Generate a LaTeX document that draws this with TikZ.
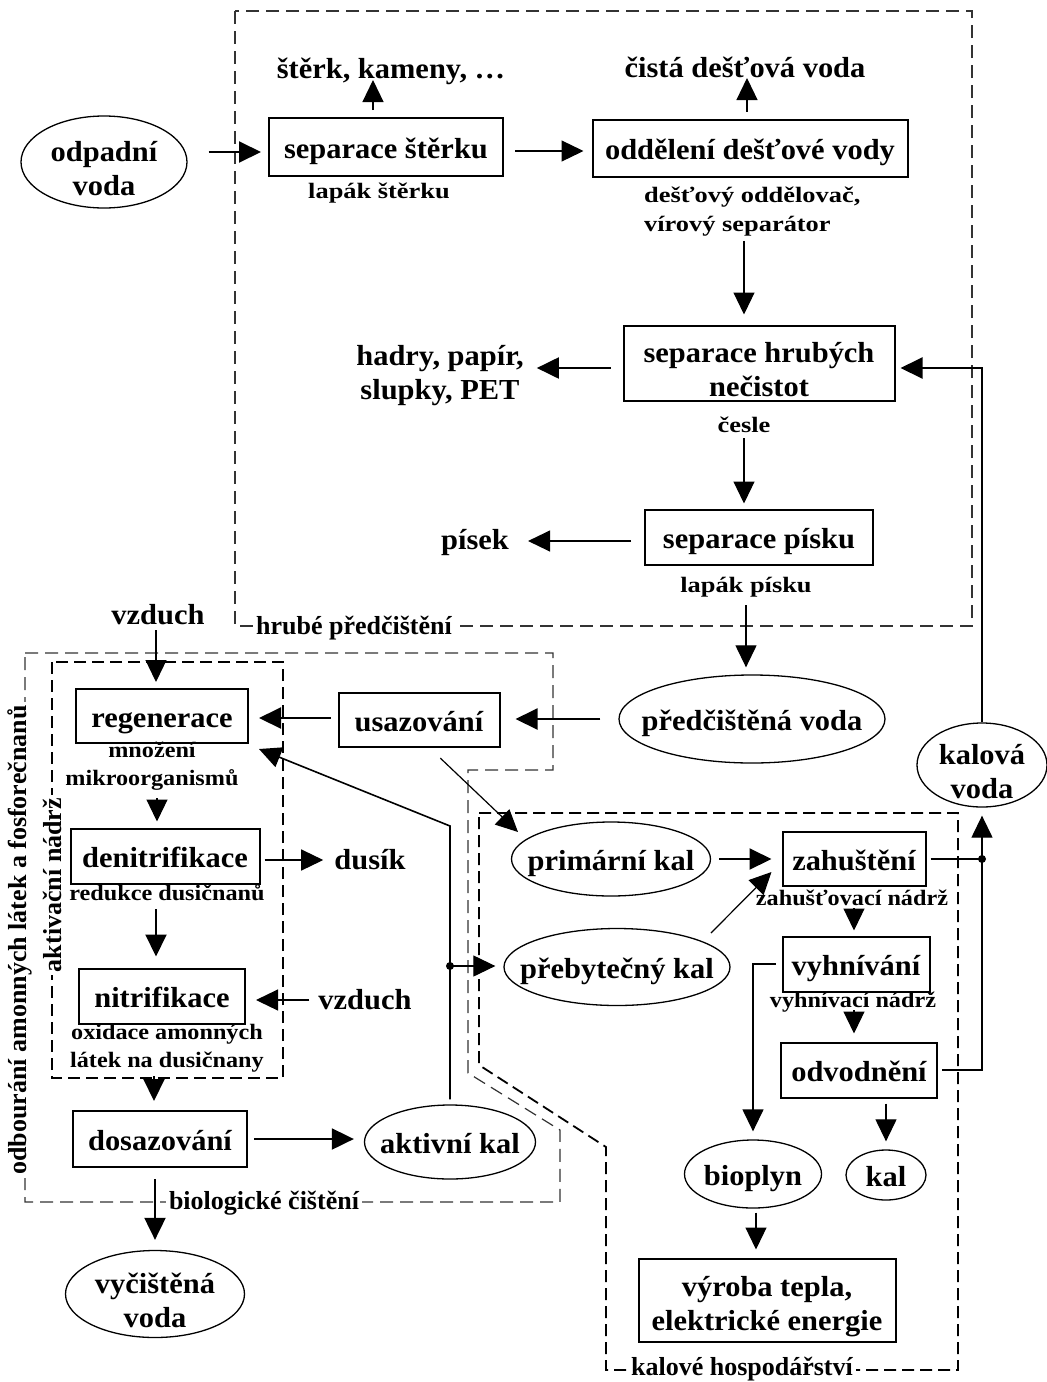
\documentclass[tikz,border=0pt]{standalone}
\usepackage{fontspec}
\usetikzlibrary{arrows.meta,shapes.geometric,calc}
\newfontfamily\mainff[FakeStretch=1.05]{Liberation Serif}
\newfontfamily\subaff[FakeStretch=1.2]{Liberation Serif}
\newfontfamily\subbff[FakeStretch=1.1]{Liberation Serif}
\newfontfamily\secff{Liberation Serif}
% invisible strut that lowers two-line texts inside their shapes
\newcommand{\topstrut}{\rule{0pt}{33pt}}
\begin{document}
\begin{tikzpicture}[x=1pt,y=-1pt,
  txt/.style={inner sep=0pt, align=center, font=\mainff\bfseries\fontsize{29pt}{34pt}\selectfont},
  one/.style={text height=22pt, text depth=0pt},
  procbox/.style 2 args={txt, draw, rectangle, line width=2pt, minimum width=#1pt, minimum height=#2pt},
  oval/.style 2 args={txt, draw, ellipse, line width=1.3pt, inner xsep=-80pt, inner ysep=-40pt, minimum width=#1pt, minimum height=#2pt},
  suba/.style={inner sep=0pt, align=center, font=\subaff\bfseries\fontsize{22pt}{29pt}\selectfont},
  subb/.style={inner sep=0pt, align=center, font=\subbff\bfseries\fontsize{22pt}{28pt}\selectfont},
  seclbl/.style={fill=white, inner xsep=3pt, inner ysep=1pt, font=\secff\bfseries\fontsize{26pt}{30pt}\selectfont},
  arr/.style={-{Triangle[length=22pt,width=21pt]}, line width=1.2pt},
  arrk/.style={arr, line width=2pt},
  dashA/.style={dash pattern=on 13pt off 7pt, line width=1.2pt, draw=black!80},
  dashB/.style={dash pattern=on 12pt off 6pt, line width=1.8pt},
  jdot/.style={circle, fill, inner sep=0pt, minimum size=8pt}
]
\useasboundingbox (0,0) rectangle (1047,1382);

% ---- section outlines ----
\draw[dashA] (235,11) rectangle (972,626);
\draw[dashA] (25,653) -- (553,653) -- (553,770) -- (468,770) -- (468,1073)
  -- (560,1130) -- (560,1202) -- (25,1202) -- cycle;
\draw[dashB] (52,662) rectangle (283,1078);
\draw[dashB] (479,813) -- (958,813) -- (958,1370) -- (606,1370) -- (606,1147) -- (479,1065) -- cycle;

\node[seclbl] (lblhrube) at (354,628) {hrubé předčištění};
\node[seclbl] (lblbio) at (264,1203) {biologické čištění};
\node[seclbl] (lblkal) at (742,1369) {kalové hospodářství};
\node[seclbl, rotate=90] (lblodb) at (20,940) {odbourání amonných látek a fosforečnanů};
\node[seclbl, rotate=90] (lblakt) at (52,885) {aktivační nádrž};

% ---- coarse pre-treatment ----
\node[oval={166}{92}] (odp) at (104,162) {\topstrut odpadní\\voda};
\node[procbox={234}{58}, one] (sepst) at (386,147) {separace štěrku};
\node[txt, anchor=base] (sterk) at (391,78) {štěrk, kameny, …};
\node[suba] (lapst) at (379,193) {lapák štěrku};
\node[procbox={315}{57}, one] (odd) at (750,148) {oddělení dešťové vody};
\node[txt, anchor=base] (cista) at (745,77) {čistá dešťová voda};
\node[suba, anchor=west, align=left] (oddlab) at (644,212) {dešťový oddělovač,\\vírový separátor};
\node[procbox={271}{75}] (hrub) at (759,363) {\topstrut separace hrubých\\nečistot};
\node[txt] (hadry) at (440,369) {\topstrut hadry, papír,\\slupky, PET};
\node[suba] (cesle) at (744,425) {česle};
\node[procbox={228}{55}, one] (pisku) at (759,537) {separace písku};
\node[txt] (pisek) at (475,543) {písek};
\node[suba] (lappis) at (746,587) {lapák písku};
\node[oval={266}{88}, one] (predc) at (752,719) {předčištěná voda};

\draw[arrk, shorten <=21pt, shorten >=7pt] ($(sepst.west -| odp.east)+(0,5)$) -- ($(sepst.west)+(0,5)$);
\draw[arr, shorten <=11pt, shorten >=8pt] ($(sepst.east)+(0,4)$) -- ($(odd.west)+(0,3)$);
\draw[arr, shorten <=7pt, shorten >=2pt] ($(sepst.north)+(-13,0)$) -- ($(sepst.north |- sterk.base)+(-13,0)$);
\draw[arr, shorten <=7pt, shorten >=1pt] ($(odd.north)+(-3,0)$) -- ($(odd.north |- cista.base)+(-3,0)$);
\draw[arr, shorten <=4pt, shorten >=10pt] (cesle |- oddlab.south) -- (cesle |- hrub.north);
\draw[arrk, shorten <=12pt, shorten >=13pt] ($(hrub.west)+(0,5)$) -- ($(hrub.west -| hadry.east)+(0,5)$);
\draw[arr, shorten <=5pt, shorten >=5pt] (cesle.south) -- (cesle |- pisku.north);
\draw[arr, shorten <=13pt, shorten >=19pt] ($(pisku.west)+(0,4)$) -- ($(pisku.west -| pisek.east)+(0,4)$);
\draw[arr, shorten <=8pt, shorten >=7pt] (lappis.south) -- (lappis |- predc.north);

% ---- biological treatment ----
\node[txt] (vzd1) at (158,615) {vzduch};
\node[procbox={172}{54}, one] (regen) at (162,716) {regenerace};
\node[subb] (mnoz) at (152,766) {množení\\mikroorganismů};
\node[procbox={189}{55}, one] (denit) at (165,856) {denitrifikace};
\node[txt] (dusik) at (370,860) {dusík};
\node[subb] (reduk) at (167,893) {redukce dusičnanů};
\node[procbox={166}{55}, one] (nitri) at (162,996) {nitrifikace};
\node[txt] (vzd2) at (365,1000) {vzduch};
\node[subb] (oxid) at (167,1048) {oxidace amonných\\látek na dusičnany};
\node[procbox={174}{56}, one] (dosaz) at (160,1139) {dosazování};
\node[oval={171}{74}, one] (aktiv) at (450,1142) {aktivní kal};
\node[oval={179}{87}] (vycist) at (155,1294) {\topstrut vyčištěná\\voda};
\node[procbox={161}{54}, one] (usaz) at (419,720) {usazování};

\draw[arr, shorten <=5pt, shorten >=6pt] ($(vzd1.south)+(-2,0)$) -- ($(vzd1.south |- regen.north)+(-2,0)$);
\draw[arrk, shorten <=18pt, shorten >=15pt] (predc.west) -- (predc.west -| usaz.east);
\draw[arrk, shorten <=7pt, shorten >=10pt] ($(usaz.west)+(0,-2)$) -- ($(usaz.west -| regen.east)+(0,-2)$);
\draw[arr, shorten <=8pt, shorten >=6pt] ($(mnoz.south)+(5,0)$) -- ($(mnoz.south |- denit.north)+(5,0)$);
\draw[arr, shorten <=4pt, shorten >=11pt] ($(denit.east)+(0,4)$) -- ($(dusik.west)+(0,0)$);
\draw[arrk, shorten <=8pt, shorten >=11pt] ($(reduk.south)+(-11,0)$) -- ($(reduk.south |- nitri.north)+(-11,0)$);
\draw[arr, shorten <=9pt, shorten >=10pt] (vzd2.west) -- (vzd2.west -| nitri.east);
\draw[arrk, shorten <=4pt, shorten >=9pt] ($(oxid.south)+(-13,0)$) -- ($(oxid.south |- dosaz.north)+(-13,0)$);
\draw[arrk, shorten <=6pt, shorten >=10pt] (dosaz.east) -- (dosaz.east -| aktiv.west);
\draw[arrk, shorten <=11pt, shorten >=10pt] ($(dosaz.south)+(-5,0)$) -- ($(dosaz.south |- vycist.north)+(-5,0)$);

% return of activated sludge
\coordinate (bend) at (450,826);
\coordinate (jb) at (450,966);
\draw[arr, line width=1.6pt, shorten <=5pt] (aktiv.north) -- (bend) -- ($(regen.south east)+(10,5)$);

% ---- sludge management ----
\node[oval={199}{74}, one] (prim) at (611,859) {primární kal};
\node[procbox={143}{54}, one] (zah) at (854,859) {zahuštění};
\node[subb] (zahlab) at (852,898) {zahušťovací nádrž};
\node[oval={226}{77}, one] (preb) at (617,967) {přebytečný kal};
\node[procbox={147}{55}, one] (vyhn) at (856,964) {vyhnívání};
\node[subb] (vyhnlab) at (853,1002) {vyhnívací nádrž};
\node[procbox={156}{55}, one] (odvod) at (859,1070) {odvodnění};
\node[oval={130}{84}] (kalv) at (982,765) {\topstrut kalová\\voda};
\node[oval={80}{50}, one] (kal) at (886,1175) {kal};
\node[oval={137}{68}, one] (biopl) at (753,1174) {bioplyn};
\node[procbox={257}{83}] (vyroba) at (767,1300) {\topstrut výroba tepla,\\elektrické energie};

\draw[arr, shorten >=8pt] (jb) -- (jb -| preb.west);
\node[jdot] (jbdot) at (jb) {};
\draw[arr, shorten <=6pt] ($(usaz.south)+(17,6)$) -- ($(prim.center)+(-93,-27)$);
\draw[arrk, shorten <=8pt, shorten >=10pt] (prim.east) -- (prim.east -| zah.west);
\draw[arr] ($(preb.center)+(94,-34)$) -- ($(zah.west)+(-10,13)$);
\coordinate (jk) at (zah.east -| kalv.south);
\draw[line width=1.3pt, shorten <=4pt] (zah.east) -- (jk);
\node[jdot] (jkdot) at (jk) {};
\draw[arr, line width=1.3pt, shorten <=4pt, shorten >=8pt] (odvod.east) -| (kalv.south);
\draw[arrk, shorten >=5pt] (kalv.north) |- ($(hrub.east)+(0,5)$);
\draw[arr, shorten <=2pt, shorten >=5pt] ($(zahlab.south)+(2,0)$) -- ($(zahlab.south |- vyhn.north)+(2,0)$);
\draw[arr, shorten <=2pt, shorten >=8pt] ($(vyhnlab.south)+(1,0)$) -- ($(vyhnlab.south |- odvod.north)+(1,0)$);
\draw[arr, line width=1.3pt, shorten <=6pt, shorten >=8pt] (vyhn.west) -| (biopl.north);
\draw[arr, shorten <=5pt, shorten >=8pt] (kal.north |- odvod.south) -- (kal.north);
\draw[arr, shorten <=4pt, shorten >=8pt] ($(biopl.south)+(3,0)$) -- ($(biopl.south |- vyroba.north)+(3,0)$);
\end{tikzpicture}
\end{document}
